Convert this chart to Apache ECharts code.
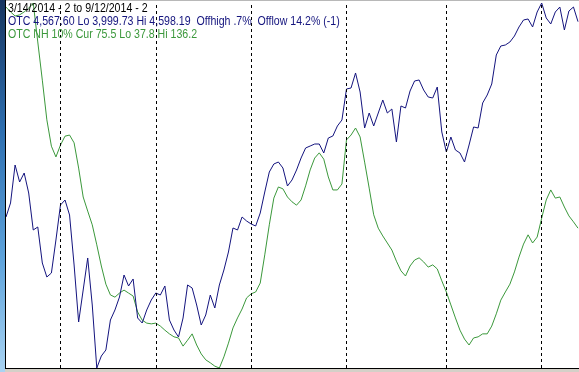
<!DOCTYPE html>
<html>
<head>
<meta charset="utf-8">
<script src="https://cdn.jsdelivr.net/npm/echarts@6/dist/echarts.min.js"></script>
<style>
html,body{margin:0;padding:0;background:#fff;}
#c{width:579px;height:372px;}
</style>
</head>
<body>
<div id="c"></div>
<script>
// Trading days 3/14/2014 .. 9/12/2014
var dates = [
'3/14','3/17','3/18','3/19','3/20','3/21','3/24','3/25','3/26','3/27','3/28','3/31',
'4/1','4/2','4/3','4/4','4/7','4/8','4/9','4/10','4/11','4/14','4/15','4/16','4/17','4/21','4/22','4/23','4/24','4/25','4/28','4/29','4/30',
'5/1','5/2','5/5','5/6','5/7','5/8','5/9','5/12','5/13','5/14','5/15','5/16','5/19','5/20','5/21','5/22','5/23','5/27','5/28','5/29','5/30',
'6/2','6/3','6/4','6/5','6/6','6/9','6/10','6/11','6/12','6/13','6/16','6/17','6/18','6/19','6/20','6/23','6/24','6/25','6/26','6/27','6/30',
'7/1','7/2','7/3','7/7','7/8','7/9','7/10','7/11','7/14','7/15','7/16','7/17','7/18','7/21','7/22','7/23','7/24','7/25','7/28','7/29','7/30','7/31',
'8/1','8/4','8/5','8/6','8/7','8/8','8/11','8/12','8/13','8/14','8/15','8/18','8/19','8/20','8/21','8/22','8/25','8/26','8/27','8/28','8/29',
'9/2','9/3','9/4','9/5','9/8','9/9','9/10','9/11','9/12'
];
var monthStarts = ['4/1','5/1','6/2','7/1','8/1','9/2'];

var otc = [
4247.31,4270.27,4332.57,4304.70,4319.45,4286.66,4226.00,4230.92,4171.89,4148.93,
4155.49,4209.60,4266.99,4275.18,4250.59,4168.61,4075.15,4127.62,4180.09,4103.02,
3999.73,4019.40,4029.24,4078.43,4094.83,4116.14,4152.21,4134.18,4145.66,4081.71,
4073.51,4094.83,4111.22,4122.70,4119.42,4134.18,4078.43,4062.03,4050.56,4081.71,
4135.82,4130.90,4103.02,4070.23,4086.63,4119.42,4098.11,4135.82,4160.41,4189.92,
4229.28,4226.00,4247.31,4240.75,4235.83,4232.55,4253.87,4288.30,4321.09,4334.21,
4337.49,4327.65,4298.14,4307.98,4324.37,4344.05,4360.45,4363.72,4367.00,4367.00,
4352.25,4376.84,4380.12,4396.52,4406.35,4457.18,4458.82,4483.42,4452.26,4393.24,
4417.83,4396.52,4417.83,4439.15,4417.83,4424.39,4370.28,4429.31,4426.03,4453.90,
4470.30,4471.94,4455.54,4444.07,4442.43,4460.46,4386.68,4353.89,4378.48,4357.17,
4352.25,4337.49,4365.36,4394.88,4393.24,4434.23,4447.34,4465.38,4512.93,4527.69,
4529.33,4534.24,4544.08,4558.84,4570.32,4571.96,4558.84,4583.43,4598.19,4573.60,
4563.76,4583.43,4591.63,4553.92,4585.07,4591.63,4567.60
];
var nh10 = [
135.1,133.8,132.7,133.0,133.8,134.8,136.2,125.7,115.4,104.7,
97.6,94.7,97.9,100.3,100.6,98.5,91.7,83.9,80.1,76.4,
71.0,65.3,60.4,57.5,56.9,58.0,58.8,58.0,57.2,52.9,
50.7,49.9,49.7,49.9,49.1,48.0,47.0,46.2,45.9,43.7,
45.3,47.0,44.0,41.6,40.0,39.2,38.3,37.8,40.8,44.5,
48.6,51.3,53.7,56.7,57.8,58.3,60.7,68.3,76.4,83.6,
86.6,86.1,83.9,82.6,81.7,83.1,86.9,91.2,94.4,95.8,
94.1,89.3,85.8,85.8,87.4,99.3,100.6,102.5,100.1,93.3,
86.3,79.1,75.5,73.4,71.5,69.6,66.6,64.0,62.6,65.3,
66.9,67.5,66.4,65.0,65.6,64.5,61.3,58.3,54.8,51.3,
48.0,45.6,44.0,45.9,46.2,47.0,47.0,49.1,52.4,56.1,
58.3,60.4,63.7,67.7,71.2,73.7,71.5,73.1,78.2,83.1,
85.8,83.6,83.9,81.2,78.8,77.2,75.5
];
var otcLo = 3999.73, otcHi = 4598.19, nhLo = 37.8, nhHi = 136.2;
var headerLines = [
  '3/14/2014 - 2 to 9/12/2014 - 2',
  'OTC 4,567.60 Lo 3,999.73 Hi 4,598.19  Offhigh .7%  Offlow 14.2% (-1)',
  'OTC NH 10% Cur 75.5 Lo 37.8 Hi 136.2'
];

var NAVY = '#14147e', GREEN = '#3b983b';
var FONT = '13px "Liberation Sans",Arial,sans-serif';
var SX = 0.815;

function headerText(i, y, color) {
  return {type:'text', x:8, y:y, scaleX:SX, scaleY:1, z:101,
    style:{text:headerLines[i], fill:color, font:FONT, align:'left', verticalAlign:'top'}};
}

var chart = echarts.init(document.getElementById('c'), null, {renderer:'canvas'});
chart.setOption({
  animation: false,
  backgroundColor: '#ffffff',
  grid: {left: 6, right: 1, top: 3, bottom: 4, containLabel: false},
  xAxis: {type:'category', data: dates, boundaryGap:false, show:false},
  yAxis: [
    {type:'value', min: otcLo, max: otcHi, show:false},
    {type:'value', min: nhLo, max: nhHi, show:false}
  ],
  series: [
    {type:'line', data: nh10, yAxisIndex:1, symbol:'none', z:3,
     lineStyle:{color:GREEN, width:1}},
    {type:'line', data: otc, yAxisIndex:0, symbol:'none', z:4,
     lineStyle:{color:NAVY, width:1},
     markLine:{silent:true, symbol:['none','none'], label:{show:false},
       lineStyle:{color:'#000', type:[3,3], width:1},
       data: monthStarts.map(function(d){return {xAxis:d};})}}
  ],
  graphic: [
    {type:'rect', shape:{x:0,y:0,width:5,height:372}, z:100,
     style:{fill:new echarts.graphic.LinearGradient(0,0,0,1,[
       {offset:0,color:'#16345f'},{offset:0.35,color:'#2e6fb0'},{offset:0.7,color:'#5fa4dc'},{offset:1,color:'#a9d3f2'}])}},
    {type:'rect', shape:{x:5,y:0,width:1,height:370}, z:100, style:{fill:'#000'}},
    {type:'rect', shape:{x:5,y:368,width:574,height:1}, z:100, style:{fill:'#000'}},
    {type:'rect', shape:{x:5,y:369,width:574,height:3}, z:100, style:{fill:'#d4d0c8'}},
    {type:'rect', shape:{x:6,y:0,width:573,height:1}, z:100, style:{fill:'#b8b8b8'}},
    headerText(0, 2, '#000'),
    headerText(1, 15, NAVY),
    headerText(2, 28, GREEN)
  ]
});
</script>
</body>
</html>
